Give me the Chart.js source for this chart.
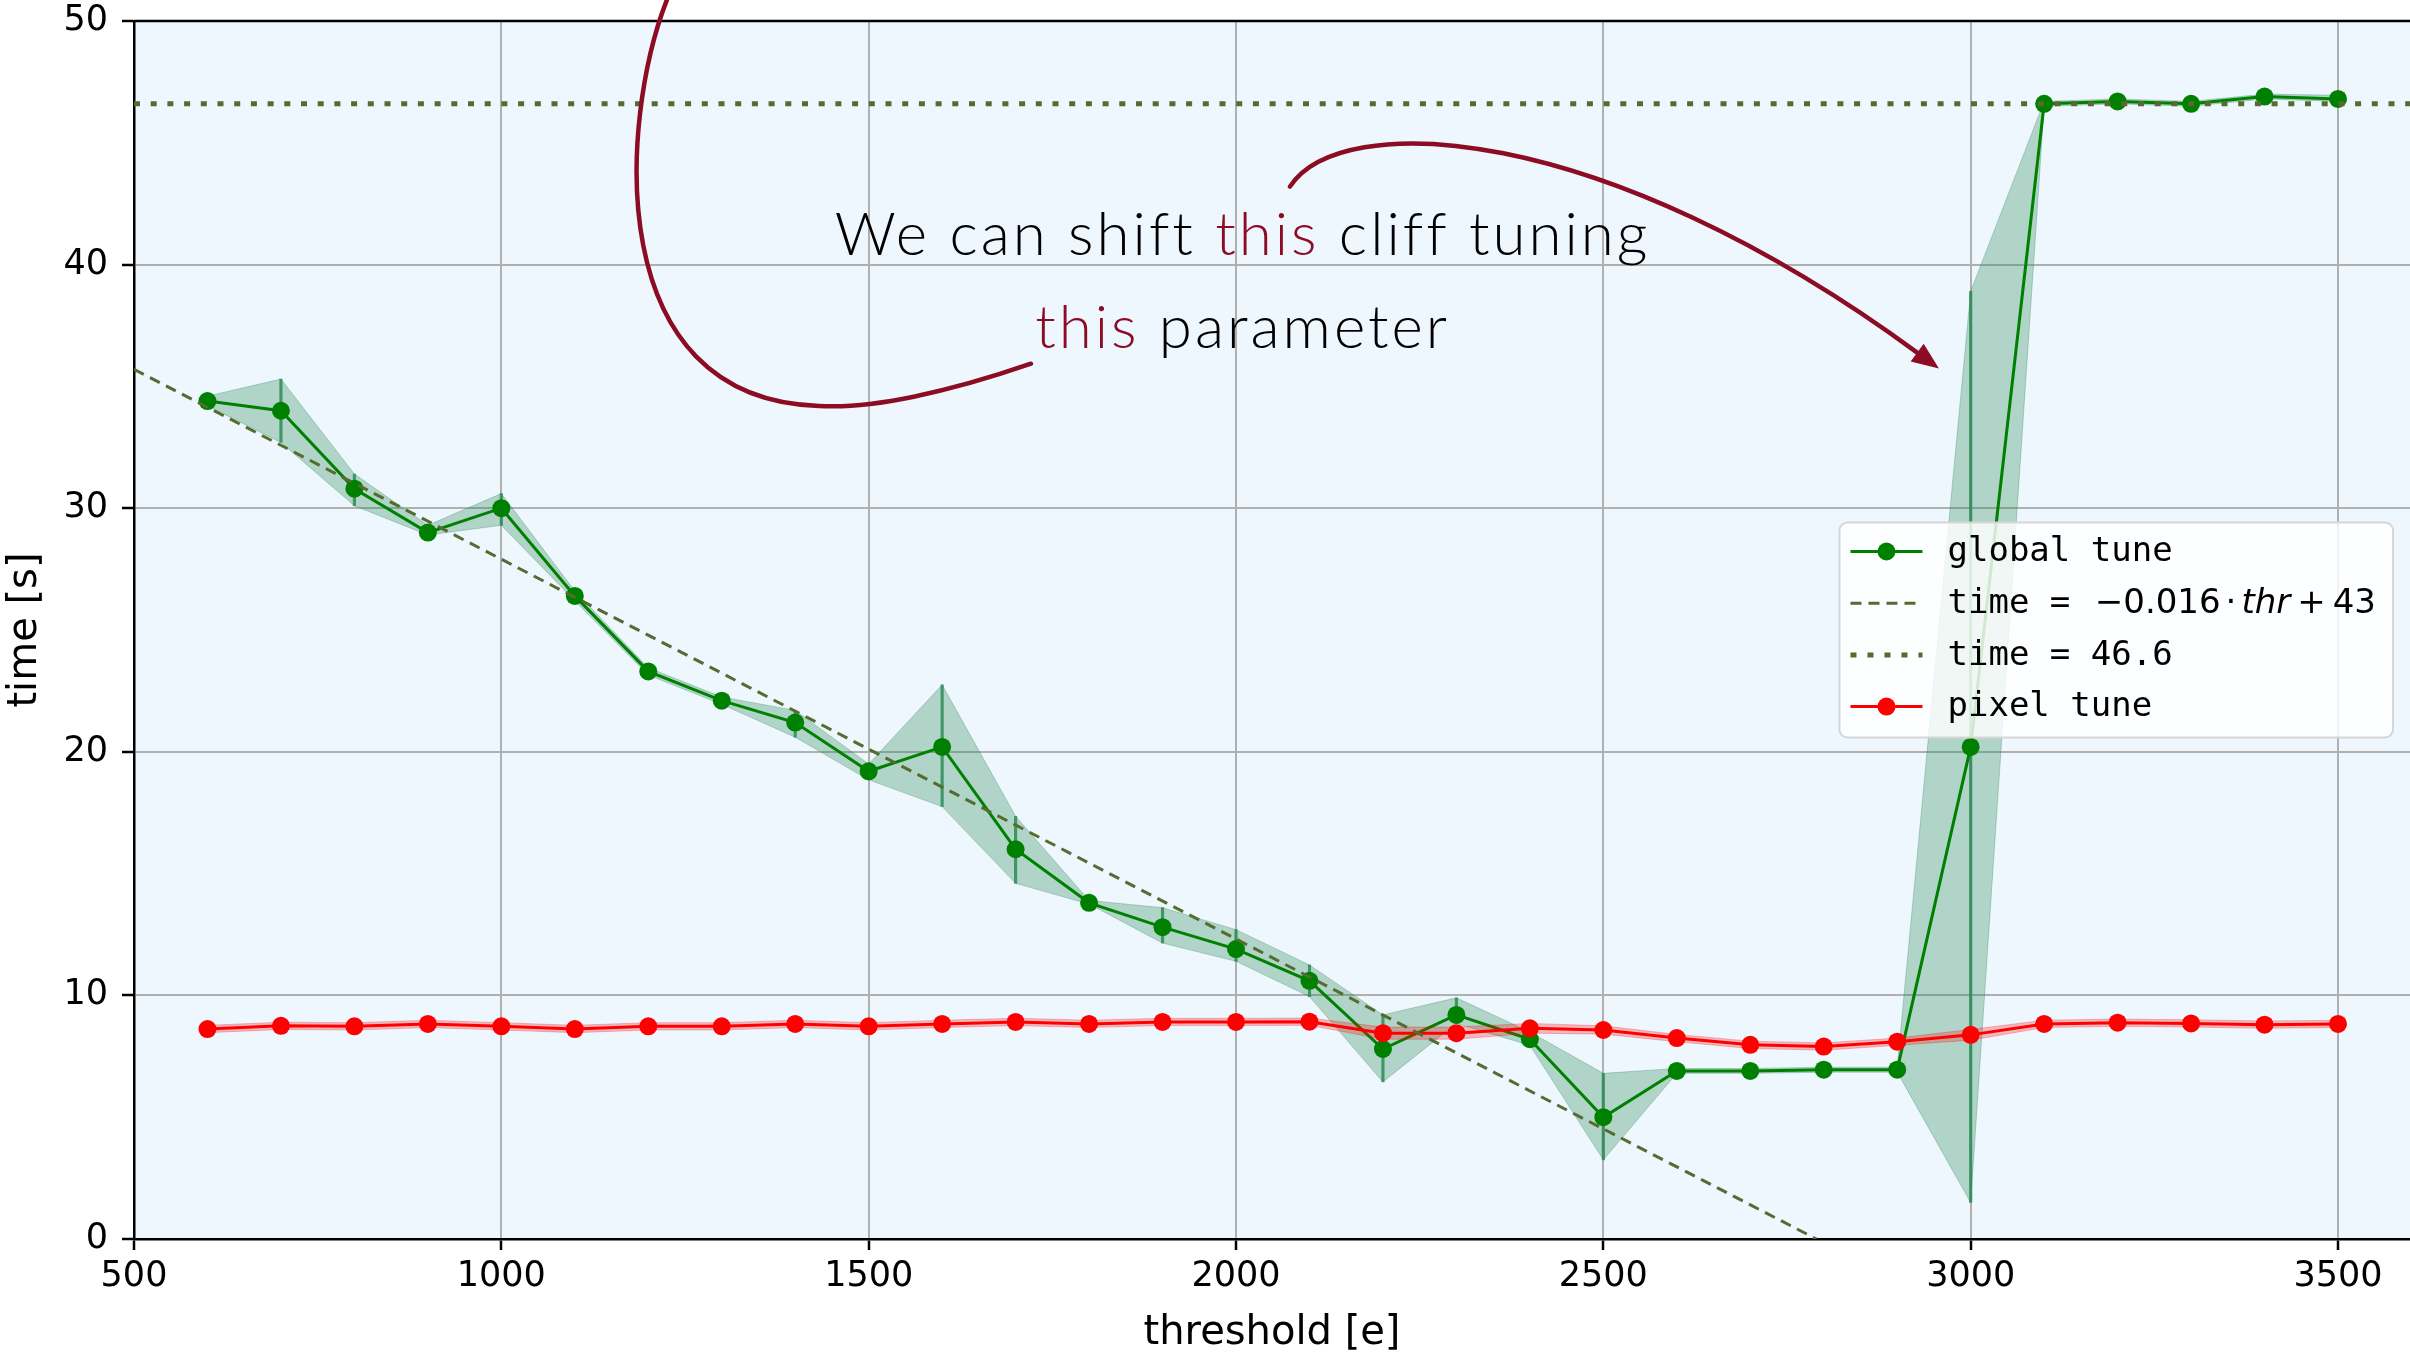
<!DOCTYPE html>
<html>
<head>
<meta charset="utf-8">
<script src="https://cdn.jsdelivr.net/npm/chart.js@4.4.1/dist/chart.umd.min.js"></script>
<style>
  html, body { margin: 0; padding: 0; background: #fff; }
  #wrap { width: 2410px; height: 1352px; }
</style>
</head>
<body>
<div id="wrap"><canvas id="mycanvas" width="2410" height="1352"></canvas></div>
<script>
// thresholds [e]
var thresholds = [600, 700, 800, 900, 1000, 1100, 1200, 1300, 1400, 1500,
                  1600, 1700, 1800, 1900, 2000, 2100, 2200, 2300, 2400, 2500,
                  2600, 2700, 2800, 2900, 3000, 3100, 3200, 3300, 3400, 3500];

// global tune: mean time and spread band
var globalTime = [34.4, 34.0, 30.8, 29.0, 30.0, 26.4, 23.3, 22.1, 21.2, 19.2,
                  20.2, 16.0, 13.8, 12.8, 11.9, 10.6, 7.8, 9.2, 8.2, 5.0,
                  6.9, 6.9, 6.95, 6.95, 20.2, 46.6, 46.7, 46.6, 46.9, 46.8];
var globalHigh = [34.6, 35.3, 31.4, 29.3, 30.6, 26.6, 23.45, 22.25, 21.7, 19.5,
                  22.75, 17.35, 13.9, 13.6, 12.7, 11.25, 9.2, 9.9, 8.5, 6.8,
                  7.0, 7.0, 7.05, 7.05, 38.9, 46.7, 46.8, 46.7, 47.0, 46.95];
var globalLow  = [34.2, 32.7, 30.1, 28.9, 29.3, 26.2, 23.15, 21.95, 20.6, 18.85,
                  17.75, 14.6, 13.75, 12.15, 11.4, 9.95, 6.45, 8.85, 7.95, 3.25,
                  6.8, 6.8, 6.85, 6.85, 1.5, 46.5, 46.6, 46.5, 46.8, 46.7];

// pixel tune
var pixelTime = [8.62, 8.75, 8.73, 8.83, 8.73, 8.62, 8.73, 8.73, 8.83, 8.73,
                 8.83, 8.91, 8.83, 8.91, 8.91, 8.92, 8.45, 8.45, 8.65, 8.58,
                 8.25, 7.97, 7.9, 8.1, 8.38, 8.83, 8.88, 8.85, 8.8, 8.83];
var pixelHigh = [8.77, 8.9, 8.88, 8.98, 8.88, 8.77, 8.88, 8.88, 8.98, 8.88,
                 8.98, 9.06, 8.98, 9.06, 9.06, 9.07, 8.7, 8.7, 8.85, 8.75,
                 8.4, 8.12, 8.05, 8.25, 8.6, 8.98, 9.03, 9.0, 8.95, 8.98];
var pixelLow  = [8.47, 8.6, 8.58, 8.68, 8.58, 8.47, 8.58, 8.58, 8.68, 8.58,
                 8.68, 8.76, 8.68, 8.76, 8.76, 8.77, 8.2, 8.2, 8.45, 8.41,
                 8.1, 7.82, 7.75, 7.95, 8.16, 8.68, 8.73, 8.7, 8.65, 8.68];

// fitted line and plateau (end points)
var fitX = [500, 2790];
var fitY = [35.7, 0];
var plateauX = [500, 3598];
var plateauY = [46.6, 46.6];

var xTicks = [500, 1000, 1500, 2000, 2500, 3000, 3500];
var yTicks = [0, 10, 20, 30, 40, 50];

// annotation, in data units (threshold, time)
var noteCenterX = 2009;
var noteLineY = [40.41, 36.59];
var hookPath = [[1720.9, 35.93], [1610.6, 34.78], [1501.8, 34.05], [1432.4, 34.2],
                [1134.3, 34.46], [1161.5, 45.95], [1225.5, 50.88]];
var arrowPath = [[2073.4, 43.2], [2141.5, 46.37], [2495.4, 45.95], [2956.8, 35.73]];

var noteColor = '#8c0c24';
var bandGreen = 'rgba(46,139,87,0.32)';
var bandRed = 'rgba(255,0,0,0.25)';
var olive = '#556b2f';

function pts(xs, ys) {
  return xs.map(function(x, i) { return {x: x, y: ys[i]}; });
}

var plotBg = {
  id: 'plotBg',
  beforeDraw: function(chart) {
    var a = chart.chartArea, ctx = chart.ctx;
    ctx.save();
    ctx.fillStyle = '#eef6fe';
    ctx.fillRect(a.left, a.top, a.right - a.left, a.bottom - a.top);
    ctx.restore();
  }
};

var boxLegend = {
  id: 'boxLegend',
  afterDatasetsDraw: function(chart) {
    var ctx = chart.ctx, a = chart.chartArea;
    var mono = '34px "DejaVu Sans Mono", monospace';
    var sans = '34px "DejaVu Sans", sans-serif';
    var ital = 'italic 34px "DejaVu Sans", sans-serif';
    ctx.save();
    // the fit label is mixed text
    var fitParts = [
      {t: 'time = ', f: mono, gap: 0},
      {t: '\u22120.016', f: sans, gap: 4},
      {t: '\u00b7', f: sans, gap: 5},
      {t: 'thr', f: ital, gap: 5},
      {t: '+', f: sans, gap: 7},
      {t: '43', f: sans, gap: 7}
    ];
    var fitW = 0;
    fitParts.forEach(function(p) { ctx.font = p.f; p.w = ctx.measureText(p.t).width; fitW += p.gap + p.w; });
    ctx.font = mono;
    var items = [
      {text: 'global tune', color: 'green', dash: [], lw: 3, marker: true},
      {parts: fitParts, color: olive, dash: [11, 7], lw: 3, marker: false},
      {text: 'time = 46.6', color: olive, dash: [6, 11], lw: 5, marker: false},
      {text: 'pixel tune', color: 'red', dash: [], lw: 3, marker: true}
    ];
    var textW = fitW;
    items.forEach(function(it) { if (it.text) textW = Math.max(textW, ctx.measureText(it.text).width); });
    var rowH = 51.7;
    var w = 11 + 72 + 25 + textW + 17;
    var h = 215;
    var right = a.right - 17;
    var left = right - w;
    var top = (a.top + a.bottom) / 2 - h / 2;
    ctx.beginPath();
    ctx.roundRect(left, top, w, h, 8);
    ctx.fillStyle = 'rgba(255,255,255,0.82)';
    ctx.fill();
    ctx.lineWidth = 2;
    ctx.strokeStyle = '#d6d6d6';
    ctx.stroke();
    items.forEach(function(it, i) {
      var cy = top + 29 + i * rowH;
      var hx = left + 11;
      ctx.save();
      ctx.strokeStyle = it.color;
      ctx.lineWidth = it.lw;
      ctx.setLineDash(it.dash);
      ctx.beginPath();
      ctx.moveTo(hx, cy);
      ctx.lineTo(hx + 72, cy);
      ctx.stroke();
      ctx.restore();
      if (it.marker) {
        ctx.beginPath();
        ctx.arc(hx + 36, cy, 9, 0, Math.PI * 2);
        ctx.fillStyle = it.color;
        ctx.fill();
      }
      ctx.fillStyle = '#000';
      ctx.textBaseline = 'middle';
      ctx.textAlign = 'left';
      var tx = hx + 72 + 25;
      if (it.text) {
        ctx.font = mono;
        ctx.fillText(it.text, tx, cy + 1);
      } else {
        it.parts.forEach(function(p) {
          tx += p.gap;
          ctx.font = p.f;
          ctx.fillText(p.t, tx, cy + 1);
          tx += p.w;
        });
      }
    });
    ctx.restore();
  }
};

var notes = {
  id: 'notes',
  afterDraw: function(chart) {
    var ctx = chart.ctx, a = chart.chartArea;
    var sx = chart.scales.x, sy = chart.scales.y;
    function P(p) { return [sx.getPixelForValue(p[0]), sy.getPixelForValue(p[1])]; }
    ctx.save();
    // top spine
    ctx.strokeStyle = '#000';
    ctx.lineWidth = 2.5;
    ctx.beginPath();
    ctx.moveTo(a.left, a.top);
    ctx.lineTo(a.right, a.top);
    ctx.stroke();

    // annotation text
    ctx.font = '300 60px Lato, "Open Sans", sans-serif';
    ctx.letterSpacing = '3px';
    ctx.textBaseline = 'alphabetic';
    ctx.textAlign = 'left';
    var lines = [
      [['We can shift ', '#000'], ['this', noteColor], [' cliff tuning', '#000']],
      [['this', noteColor], [' parameter', '#000']]
    ];
    var cx = sx.getPixelForValue(noteCenterX);
    lines.forEach(function(line, li) {
      var total = 0;
      line.forEach(function(s) { total += ctx.measureText(s[0]).width; });
      var x = cx - total / 2;
      var y = sy.getPixelForValue(noteLineY[li]);
      line.forEach(function(s) {
        ctx.fillStyle = s[1];
        ctx.fillText(s[0], x, y);
        x += ctx.measureText(s[0]).width;
      });
    });
    ctx.letterSpacing = '0px';

    // curved hook going out of the top
    ctx.strokeStyle = noteColor;
    ctx.fillStyle = noteColor;
    ctx.lineWidth = 4.5;
    ctx.lineCap = 'round';
    var h = hookPath.map(P);
    ctx.beginPath();
    ctx.moveTo(h[0][0], h[0][1]);
    ctx.bezierCurveTo(h[1][0], h[1][1], h[2][0], h[2][1], h[3][0], h[3][1]);
    ctx.bezierCurveTo(h[4][0], h[4][1], h[5][0], h[5][1], h[6][0], h[6][1]);
    ctx.stroke();

    // arrow towards the cliff
    var r = arrowPath.map(P);
    var tip = r[3];
    var ang = Math.atan2(r[3][1] - r[2][1], r[3][0] - r[2][0]);
    var hl = 27, hw = 11;
    var bx = tip[0] - hl * Math.cos(ang), by = tip[1] - hl * Math.sin(ang);
    ctx.beginPath();
    ctx.moveTo(r[0][0], r[0][1]);
    ctx.bezierCurveTo(r[1][0], r[1][1], r[2][0], r[2][1], bx, by);
    ctx.stroke();
    ctx.beginPath();
    ctx.moveTo(tip[0], tip[1]);
    ctx.lineTo(bx - hw * Math.sin(ang), by + hw * Math.cos(ang));
    ctx.lineTo(bx + hw * Math.sin(ang), by - hw * Math.cos(ang));
    ctx.closePath();
    ctx.fill();
    ctx.restore();
  }
};

var chartdata = {
  datasets: [
    {
      type: 'line', data: pts(thresholds, globalHigh), fill: '+1',
      backgroundColor: bandGreen, borderColor: bandGreen, borderWidth: 1,
      pointRadius: 0, order: 8
    },
    {
      type: 'line', data: pts(thresholds, globalLow), fill: false,
      borderColor: bandGreen, borderWidth: 1, pointRadius: 0, order: 8
    },
    {
      type: 'bar',
      data: thresholds.map(function(t, i) { return {x: t, y: [globalLow[i], globalHigh[i]]}; }),
      backgroundColor: 'rgba(46,139,87,0.85)', barThickness: 2.5, order: 7
    },
    {
      type: 'line', label: 'global tune', data: pts(thresholds, globalTime),
      borderColor: 'green', backgroundColor: 'green', borderWidth: 3,
      pointRadius: 9, pointBorderWidth: 0, pointBackgroundColor: 'green',
      lineTension: 0, fill: false, order: 6
    },
    {
      type: 'line', data: pts(thresholds, pixelHigh), fill: '+1',
      backgroundColor: bandRed, borderColor: bandRed, borderWidth: 1,
      pointRadius: 0, order: 5
    },
    {
      type: 'line', data: pts(thresholds, pixelLow), fill: false,
      borderColor: bandRed, borderWidth: 1, pointRadius: 0, order: 5
    },
    {
      type: 'line', label: 'pixel tune', data: pts(thresholds, pixelTime),
      borderColor: 'red', backgroundColor: 'red', borderWidth: 3,
      pointRadius: 9, pointBorderWidth: 0, pointBackgroundColor: 'red',
      lineTension: 0, fill: false, order: 4
    },
    {
      type: 'line', data: pts(fitX, fitY), borderColor: olive, borderWidth: 3,
      borderDash: [11, 7], pointRadius: 0, fill: false, order: 3
    },
    {
      type: 'line', data: pts(plateauX, plateauY), borderColor: olive, borderWidth: 5,
      borderDash: [6, 10.7], pointRadius: 0, fill: false, order: 2
    }
  ]
};

var tickFont = {family: '"DejaVu Sans", sans-serif', size: 35};
var titleFont = {family: '"DejaVu Sans", sans-serif', size: 40};

var opt = {
  animation: false,
  responsive: false,
  events: [],
  layout: {autoPadding: false, padding: {top: 21, right: 0, left: 0, bottom: 0}},
  plugins: {legend: {display: false}, tooltip: {enabled: false}},
  scales: {
    x: {
      type: 'linear', min: 500, max: 3598, offset: false,
      afterFit: function(s) { s.height = 113; s.paddingLeft = 0; s.paddingRight = 0; },
      afterBuildTicks: function(s) { s.ticks = xTicks.map(function(v) { return {value: v}; }); },
      ticks: {font: tickFont, color: '#000', padding: 6, maxRotation: 0, autoSkip: false,
              callback: function(v) { return String(v); }},
      grid: {offset: false, color: '#b0b0b0', lineWidth: 2, tickColor: '#000', tickWidth: 2.5, tickLength: 11},
      border: {color: '#000', width: 2.5},
      title: {display: true, text: 'threshold [e]', color: '#000', padding: {top: 0, bottom: 0},
              font: {family: '"DejaVu Sans", sans-serif', size: 40, lineHeight: 0.9}}
    },
    y: {
      type: 'linear', min: 0, max: 50,
      afterFit: function(s) { s.width = 134; s.paddingTop = 0; s.paddingBottom = 0; },
      afterBuildTicks: function(s) { s.ticks = yTicks.map(function(v) { return {value: v}; }); },
      ticks: {font: tickFont, color: '#000', padding: 14, autoSkip: false,
              callback: function(v) { return String(v); }},
      grid: {color: '#b0b0b0', lineWidth: 2, tickColor: '#000', tickWidth: 2.5, tickLength: 12},
      border: {color: '#000', width: 2.5},
      title: {display: true, text: 'time [s]', font: titleFont, color: '#000', padding: {top: 2, bottom: 0}}
    }
  }
};

var ctx = document.getElementById('mycanvas');
var LineGraph = new Chart(ctx, {
  type: 'line',
  data: chartdata,
  options: opt,
  plugins: [plotBg, boxLegend, notes]
});
</script>
</body>
</html>
